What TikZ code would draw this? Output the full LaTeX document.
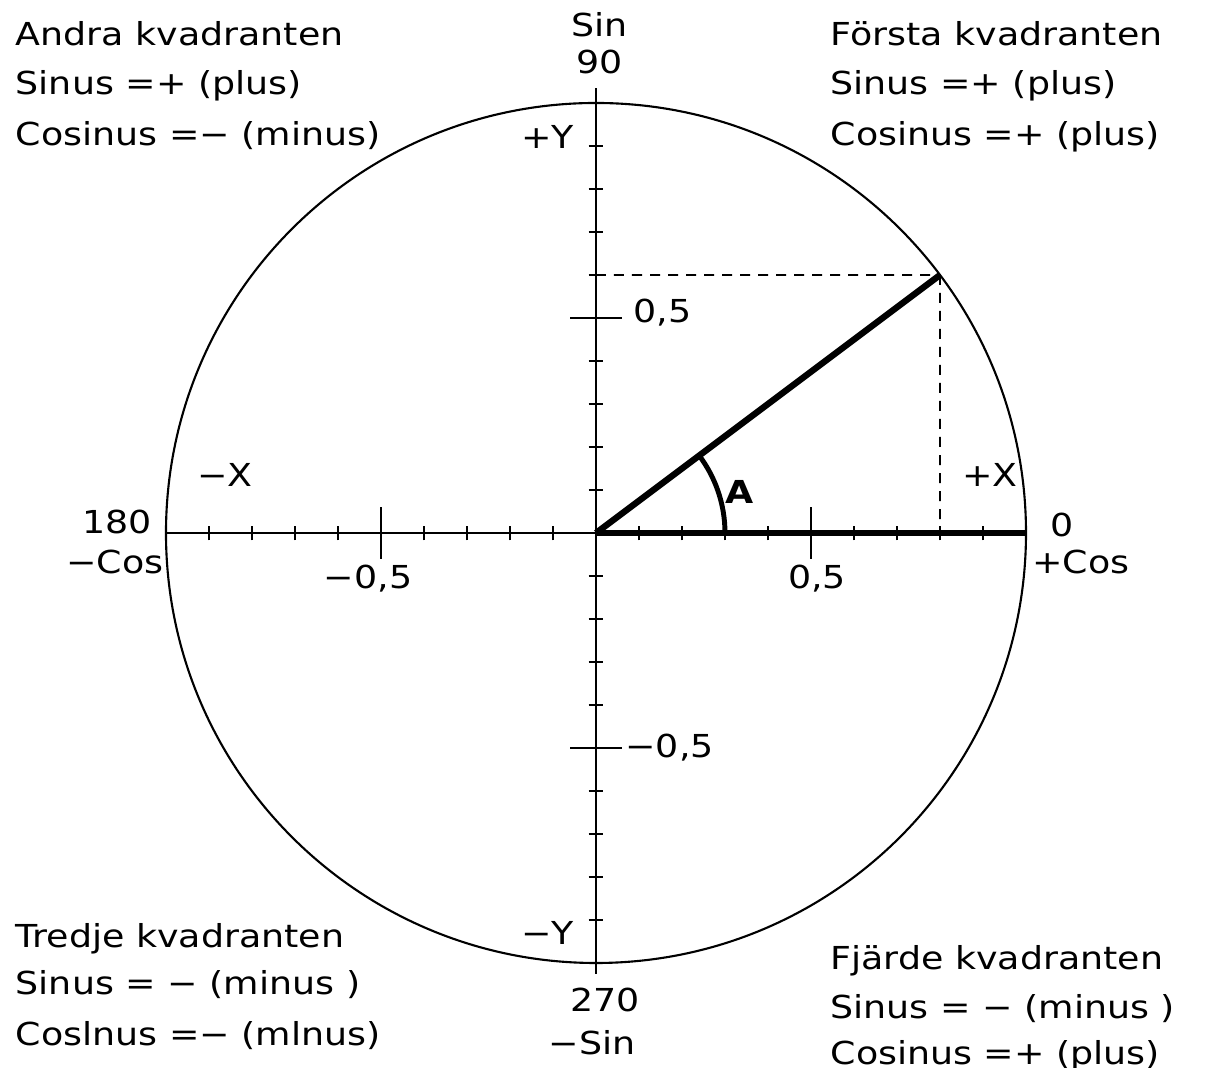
\documentclass[tikz,border=0pt]{standalone}
\usepackage{fontspec}
\setmainfont[FakeStretch=1.15]{DejaVu Sans}
\usepackage{tikz}
\usetikzlibrary{positioning}

\begin{document}
\begin{tikzpicture}[
    x=4.3cm, y=4.3cm,
    lbl/.style={inner sep=0pt, font=\fontsize{9}{11}\selectfont},
    quad/.style={lbl, anchor=base west},
    thinline/.style={line width=0.6pt},
    vector/.style={line width=1.8pt},
    guide/.style={line width=0.5pt, dash pattern=on 0.1cm off 0.08cm}
]
\useasboundingbox (-1.386,-1.244) rectangle (1.4186,1.2395);

\coordinate (O) at (0,0);
\coordinate (P) at (36.87:1);
\coordinate (Px) at (0.8,0);
\coordinate (Py) at (0,0.6);
\coordinate (E) at (1,0);
\coordinate (W) at (-1,0);
\coordinate (N) at (0,1.035);
\coordinate (S) at (0,-1.025);

% circle and axes
\draw[thinline] (O) circle (1);
\draw[thinline] (W) -- (E);
\draw[thinline] (S) -- (N);

% ticks
\foreach \i in {1,2,3,4,6,7,8,9} {
    \draw[thinline] (\i/10,-0.017) -- (\i/10,0.017);
    \draw[thinline] (-\i/10,-0.017) -- (-\i/10,0.017);
    \draw[thinline] (-0.017,\i/10) -- (0.017,\i/10);
    \draw[thinline] (-0.017,-\i/10) -- (0.017,-\i/10);
}
\draw[thinline] (0.5,-0.06) -- (0.5,0.06);
\draw[thinline] (-0.5,-0.06) -- (-0.5,0.06);
\draw[thinline] (-0.06,0.5) -- (0.06,0.5);
\draw[thinline] (-0.06,-0.5) -- (0.06,-0.5);

% projections
\draw[guide] (Py) -- (P);
\draw[guide] (P) -- (Px);

% radius and angle
\draw[vector] (O) -- (E);
\draw[vector] (O) -- (P);
\draw[line width=1.4pt] (0.3,0) arc (0:36.87:0.3);
\node[lbl, font=\fontsize{9}{11}\selectfont\bfseries] (angA) at (0.335,0.095) {A};

% axis labels
\node[lbl] (sin) at (0.009,1.181) {Sin};
\node[lbl] (deg90) at (0.009,1.095) {90};
\node[lbl, anchor=east] (posY) at (-0.05,0.921) {+Y};
\node[lbl, anchor=west] (ypos) at (0.086,0.512) {0,5};
\node[lbl, anchor=west] (yneg) at (0.067,-0.5) {−0,5};
\node[lbl, anchor=east] (negY) at (-0.05,-0.930) {−Y};
\node[lbl] (deg270) at (0.021,-1.086) {270};
\node[lbl] (negsin) at (-0.009,-1.186) {−Sin};
\node[lbl] (deg180) at (-1.114,0.026) {180};
\node[lbl] (negcos) at (-1.119,-0.067) {−Cos};
\node[lbl] (negX) at (-0.863,0.135) {−X};
\node[lbl] (xneg) at (-0.530,-0.105) {−0,5};
\node[lbl] (xpos) at (0.514,-0.105) {0,5};
\node[lbl] (posX) at (0.916,0.135) {+X};
\node[lbl] (deg0) at (1.084,0.019) {0};
\node[lbl] (poscos) at (1.128,-0.067) {+Cos};

% quadrant notes
\node[quad] (q2a) at (-1.351,1.133) {Andra kvadranten};
\node[quad] (q2b) at (-1.351,1.019) {Sinus =+ (plus)};
\node[quad] (q2c) at (-1.351,0.902) {Cosinus =− (minus)};

\node[quad] (q1a) at (0.544,1.133) {Första kvadranten};
\node[quad] (q1b) at (0.544,1.019) {Sinus =+ (plus)};
\node[quad] (q1c) at (0.544,0.902) {Cosinus =+ (plus)};

\node[quad] (q3a) at (-1.351,-0.963) {Tredje kvadranten};
\node[quad] (q3b) at (-1.351,-1.074) {Sinus = − (minus )};
\node[quad] (q3c) at (-1.351,-1.191) {Coslnus =− (mlnus)};

\node[quad] (q4a) at (0.544,-1.016) {Fjärde kvadranten};
\node[quad] (q4b) at (0.544,-1.128) {Sinus = − (minus )};
\node[quad] (q4c) at (0.544,-1.237) {Cosinus =+ (plus)};
\end{tikzpicture}
\end{document}
